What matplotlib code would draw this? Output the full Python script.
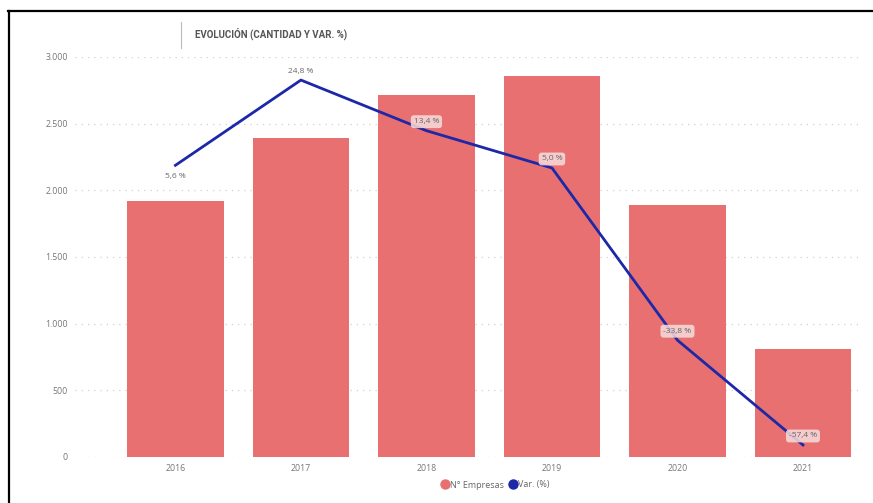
import matplotlib
matplotlib.use("Agg")
import matplotlib.pyplot as plt
from matplotlib.lines import Line2D

# yearly data
years = ["2016", "2017", "2018", "2019", "2020", "2021"]
empresas = [1920, 2395, 2715, 2855, 1890, 810]
variacion = [5.6, 24.8, 13.4, 5.0, -33.8, -57.4]
var_labels = ["5,6 %", "24,8 %", "13,4 %", "5,0 %", "-33,8 %", "-57,4 %"]

bar_color = "#E87070"
line_color = "#1C28A8"
text_grey = "#777777"

plt.rcParams["font.family"] = ["Open Sans", "DejaVu Sans"]

fig = plt.figure(figsize=(8.73, 5.03), dpi=100)
ax = fig.add_axes([0.0859, 0.0915, 0.9015, 0.7952])

x = list(range(len(years)))
ax.bar(x, empresas, width=0.77, color=bar_color, zorder=2)
ax.set_xlim(-0.80, 5.47)
ax.set_ylim(0, 3000)
ax.set_yticks([0, 500, 1000, 1500, 2000, 2500, 3000])
ax.set_yticklabels(["0", "500", "1.000", "1.500", "2.000", "2.500", "3.000"])
ax.set_xticks(x)
ax.set_xticklabels(years)
ax.tick_params(length=0, labelsize=6.3, labelcolor=text_grey, pad=5)
ax.grid(axis="y", color="#d0d0d0", linestyle=(0, (1, 4)), linewidth=0.9, zorder=0)
for s in ax.spines.values():
    s.set_visible(False)

# percentage change on a hidden secondary axis
ax2 = ax.twinx()
ax2.set_ylim(-60.1, 30.0)
ax2.plot(x, variacion, color=line_color, linewidth=2, zorder=3, clip_on=False)
ax2.axis("off")

offsets = [-11, 9, 9, 9, 9, 9]
for i, (v, lab) in enumerate(zip(variacion, var_labels)):
    boxed = i >= 2
    bbox = dict(boxstyle="round,pad=0.35", fc="#f8dddd", ec="none", alpha=0.85) if boxed else None
    ax2.annotate(lab, (i, v), xytext=(0, offsets[i]), textcoords="offset pixels",
                 ha="center", va="center", fontsize=6, color="#666666",
                 bbox=bbox, zorder=4)

# title with a small separator on its left
fig.text(195 / 873, 1 - 34 / 503, "EVOLUCIÓN (CANTIDAD Y VAR. %)", fontsize=7,
         fontweight="bold", color="#555555", va="center", ha="left",
         family=["Roboto", "DejaVu Sans"])
fig.add_artist(Line2D([181 / 873, 181 / 873], [1 - 22 / 503, 1 - 48 / 503],
                      color="#bbbbbb", linewidth=0.8))

# frame around the visual
fig.add_artist(Line2D([8 / 873, 1], [1 - 11 / 503, 1 - 11 / 503], color="black", linewidth=1.6))
fig.add_artist(Line2D([9 / 873, 9 / 873], [0, 1 - 11 / 503], color="black", linewidth=1.6))

handles = [
    Line2D([], [], marker="o", linestyle="none", markersize=6.5, color=bar_color),
    Line2D([], [], marker="o", linestyle="none", markersize=6.5, color=line_color),
]
fig.legend(handles, ["N° Empresas", "Var. (%)"], loc="center", bbox_to_anchor=(495 / 873, 1 - 485 / 503),
           ncol=2, frameon=False, fontsize=6.5, labelcolor="#666666", handletextpad=0.1,
           columnspacing=0.4, handlelength=1.0)

fig.savefig("out.png", dpi=100)
